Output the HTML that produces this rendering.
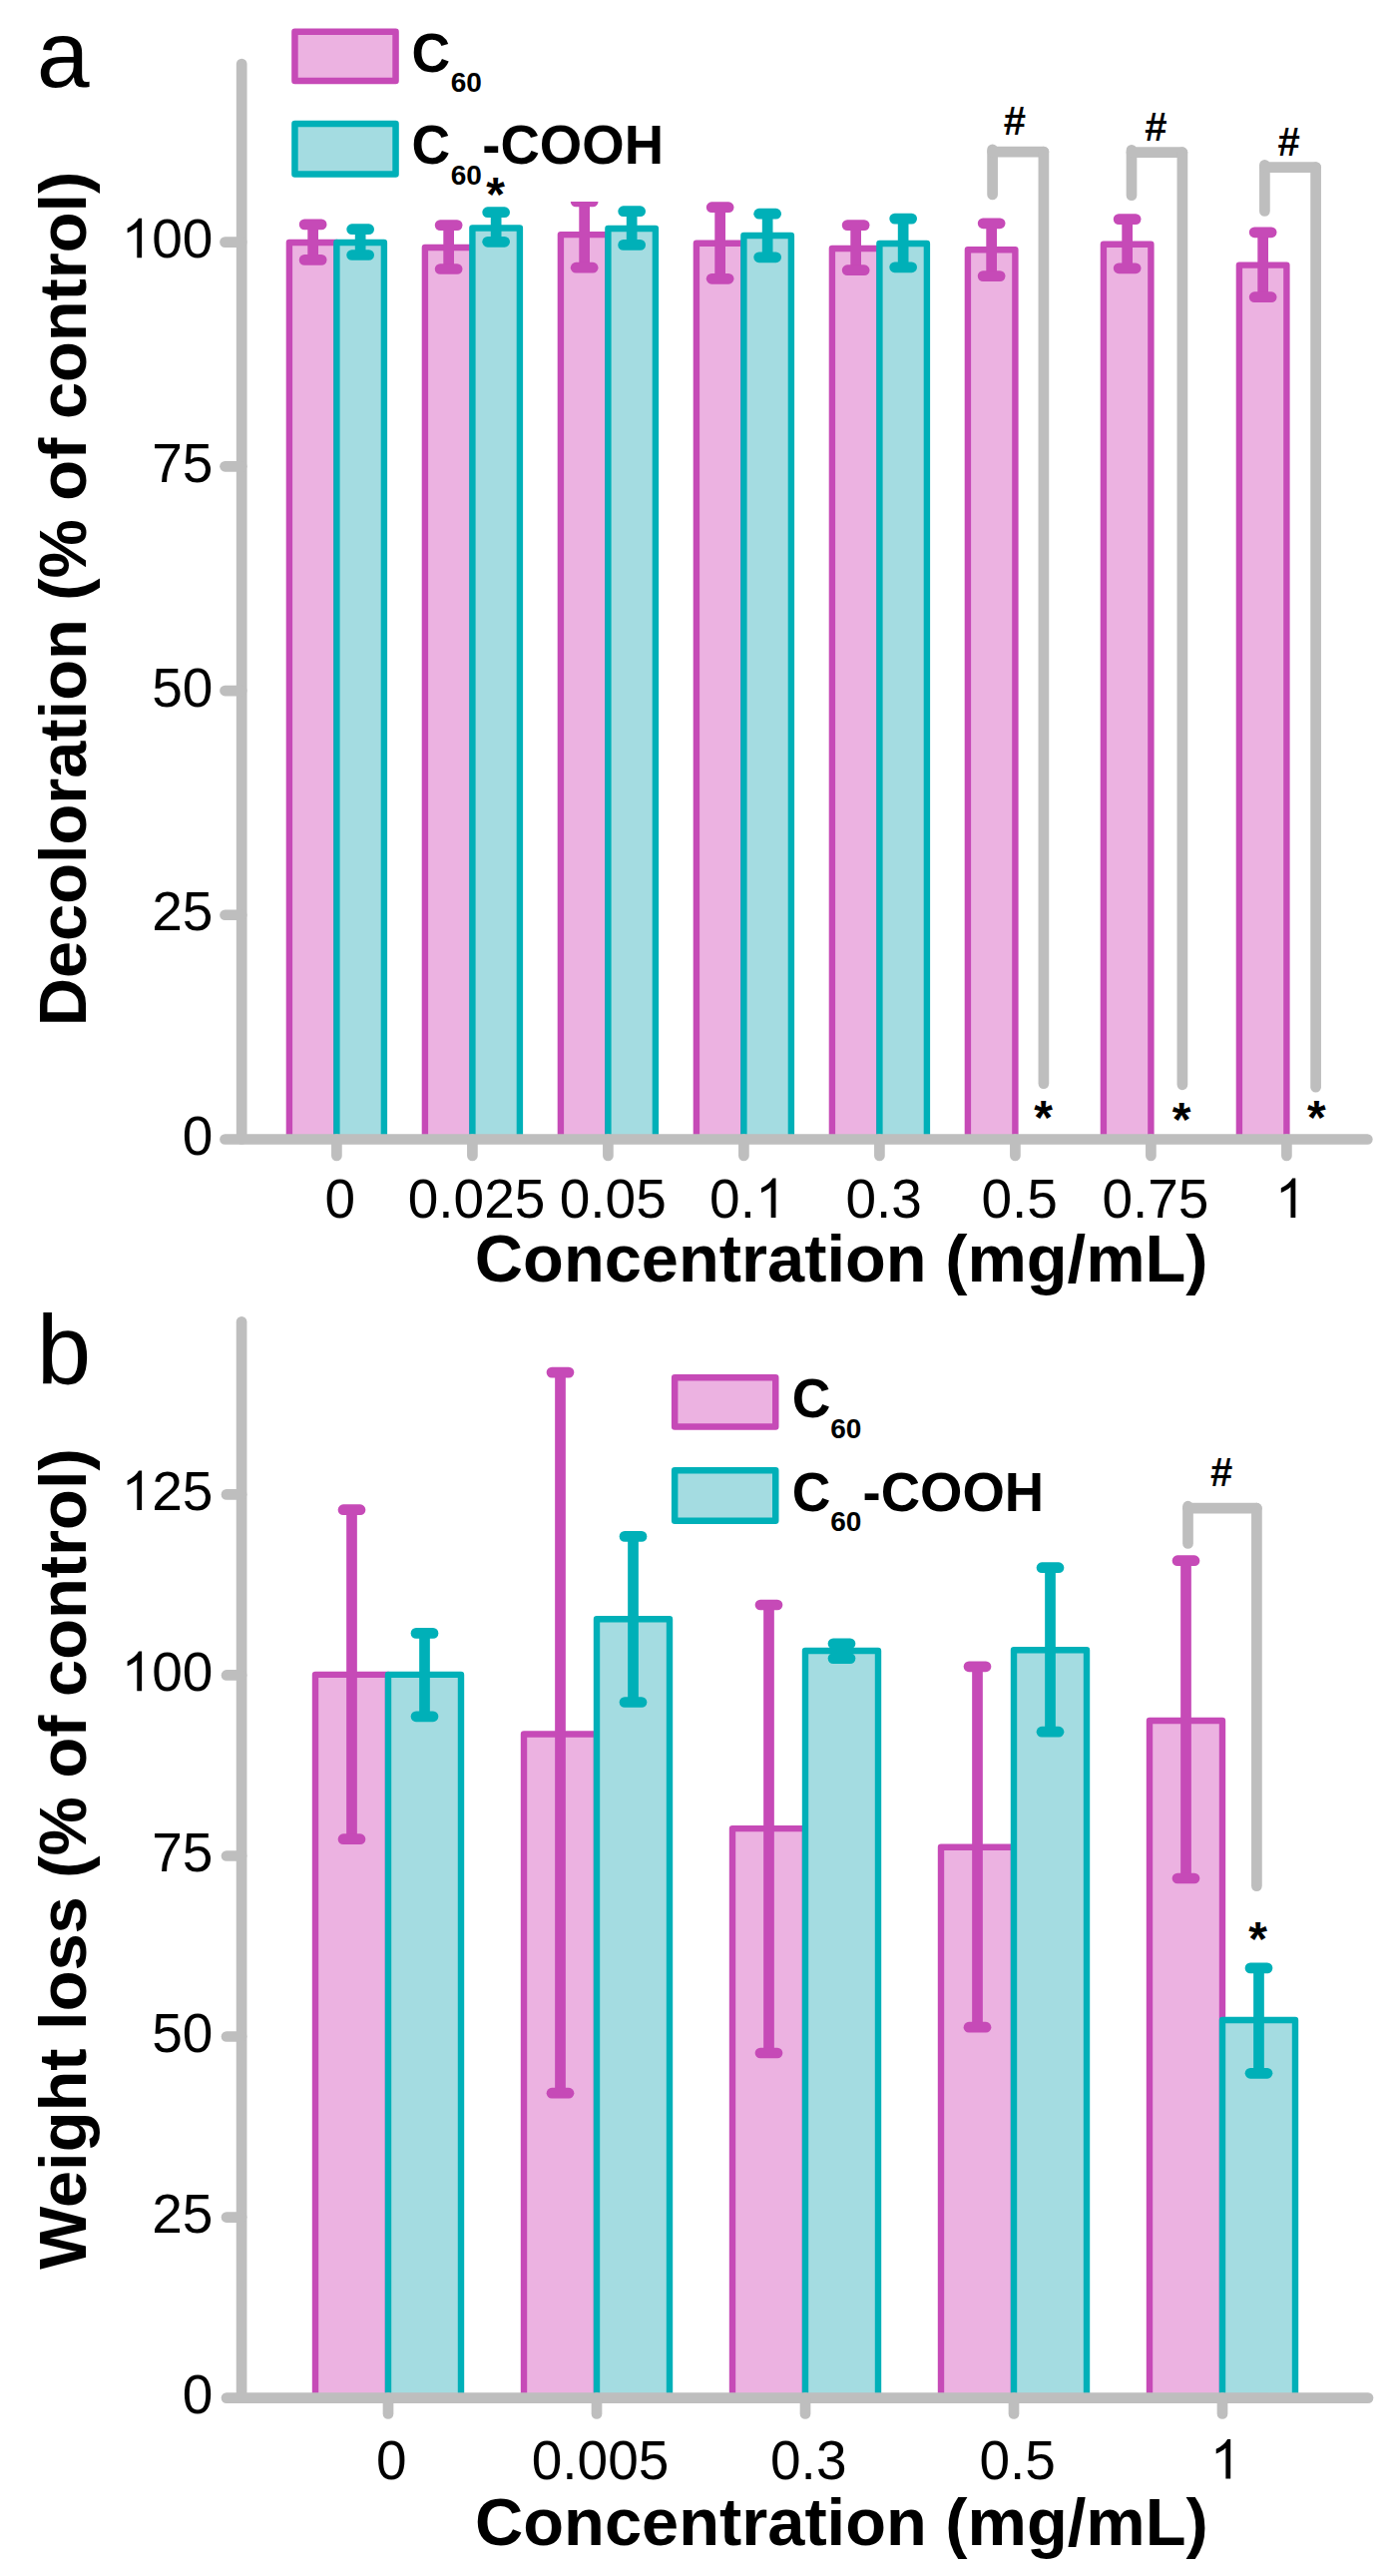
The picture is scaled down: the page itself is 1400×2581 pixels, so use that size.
<!DOCTYPE html>
<html><head><meta charset="utf-8"><style>
html,body{margin:0;padding:0;background:#fff;}
svg{display:block;}
text{font-family:"Liberation Sans",sans-serif;fill:#000;}
</style></head><body>
<svg width="1400" height="2581" viewBox="0 0 1400 2581">
<defs><clipPath id="clipA"><rect x="0" y="202" width="1400" height="1000"/></clipPath></defs>
<rect x="0" y="0" width="1400" height="2581" fill="#fff"/>
<path d="M289.90,1141.50 V243.00 H337.40 V1141.50" fill="#ECB2E1" stroke="#C64AB7" stroke-width="6.4" stroke-linejoin="round"/>
<path d="M337.40,1141.50 V243.00 H384.90 V1141.50" fill="#A4DCE1" stroke="#00B0B8" stroke-width="6.4" stroke-linejoin="round"/>
<path d="M425.90,1141.50 V248.00 H473.40 V1141.50" fill="#ECB2E1" stroke="#C64AB7" stroke-width="6.4" stroke-linejoin="round"/>
<path d="M473.40,1141.50 V228.50 H520.90 V1141.50" fill="#A4DCE1" stroke="#00B0B8" stroke-width="6.4" stroke-linejoin="round"/>
<path d="M561.90,1141.50 V235.10 H609.40 V1141.50" fill="#ECB2E1" stroke="#C64AB7" stroke-width="6.4" stroke-linejoin="round"/>
<path d="M609.40,1141.50 V229.00 H656.90 V1141.50" fill="#A4DCE1" stroke="#00B0B8" stroke-width="6.4" stroke-linejoin="round"/>
<path d="M697.90,1141.50 V243.70 H745.40 V1141.50" fill="#ECB2E1" stroke="#C64AB7" stroke-width="6.4" stroke-linejoin="round"/>
<path d="M745.40,1141.50 V236.00 H792.90 V1141.50" fill="#A4DCE1" stroke="#00B0B8" stroke-width="6.4" stroke-linejoin="round"/>
<path d="M833.90,1141.50 V249.00 H881.40 V1141.50" fill="#ECB2E1" stroke="#C64AB7" stroke-width="6.4" stroke-linejoin="round"/>
<path d="M881.40,1141.50 V244.00 H928.90 V1141.50" fill="#A4DCE1" stroke="#00B0B8" stroke-width="6.4" stroke-linejoin="round"/>
<path d="M969.90,1141.50 V250.30 H1017.40 V1141.50" fill="#ECB2E1" stroke="#C64AB7" stroke-width="6.4" stroke-linejoin="round"/>
<path d="M1105.90,1141.50 V244.80 H1153.40 V1141.50" fill="#ECB2E1" stroke="#C64AB7" stroke-width="6.4" stroke-linejoin="round"/>
<path d="M1241.90,1141.50 V265.60 H1289.40 V1141.50" fill="#ECB2E1" stroke="#C64AB7" stroke-width="6.4" stroke-linejoin="round"/>
<g clip-path="url(#clipA)">
<line x1="313.65" y1="224.90" x2="313.65" y2="260.40" stroke="#C64AB7" stroke-width="10.7" stroke-linecap="butt"/>
<line x1="305.15" y1="224.90" x2="322.15" y2="224.90" stroke="#C64AB7" stroke-width="10.7" stroke-linecap="round"/>
<line x1="305.15" y1="260.40" x2="322.15" y2="260.40" stroke="#C64AB7" stroke-width="10.7" stroke-linecap="round"/>
<line x1="361.15" y1="229.70" x2="361.15" y2="255.50" stroke="#00B0B8" stroke-width="10.7" stroke-linecap="butt"/>
<line x1="352.65" y1="229.70" x2="369.65" y2="229.70" stroke="#00B0B8" stroke-width="10.7" stroke-linecap="round"/>
<line x1="352.65" y1="255.50" x2="369.65" y2="255.50" stroke="#00B0B8" stroke-width="10.7" stroke-linecap="round"/>
<line x1="449.65" y1="225.60" x2="449.65" y2="269.50" stroke="#C64AB7" stroke-width="10.7" stroke-linecap="butt"/>
<line x1="441.15" y1="225.60" x2="458.15" y2="225.60" stroke="#C64AB7" stroke-width="10.7" stroke-linecap="round"/>
<line x1="441.15" y1="269.50" x2="458.15" y2="269.50" stroke="#C64AB7" stroke-width="10.7" stroke-linecap="round"/>
<line x1="497.15" y1="212.70" x2="497.15" y2="242.30" stroke="#00B0B8" stroke-width="10.7" stroke-linecap="butt"/>
<line x1="488.65" y1="212.70" x2="505.65" y2="212.70" stroke="#00B0B8" stroke-width="10.7" stroke-linecap="round"/>
<line x1="488.65" y1="242.30" x2="505.65" y2="242.30" stroke="#00B0B8" stroke-width="10.7" stroke-linecap="round"/>
<line x1="585.65" y1="202.00" x2="585.65" y2="268.20" stroke="#C64AB7" stroke-width="10.7" stroke-linecap="butt"/>
<line x1="577.15" y1="202.00" x2="594.15" y2="202.00" stroke="#C64AB7" stroke-width="10.7" stroke-linecap="round"/>
<line x1="577.15" y1="268.20" x2="594.15" y2="268.20" stroke="#C64AB7" stroke-width="10.7" stroke-linecap="round"/>
<line x1="633.15" y1="211.70" x2="633.15" y2="245.40" stroke="#00B0B8" stroke-width="10.7" stroke-linecap="butt"/>
<line x1="624.65" y1="211.70" x2="641.65" y2="211.70" stroke="#00B0B8" stroke-width="10.7" stroke-linecap="round"/>
<line x1="624.65" y1="245.40" x2="641.65" y2="245.40" stroke="#00B0B8" stroke-width="10.7" stroke-linecap="round"/>
<line x1="721.65" y1="207.70" x2="721.65" y2="279.30" stroke="#C64AB7" stroke-width="10.7" stroke-linecap="butt"/>
<line x1="713.15" y1="207.70" x2="730.15" y2="207.70" stroke="#C64AB7" stroke-width="10.7" stroke-linecap="round"/>
<line x1="713.15" y1="279.30" x2="730.15" y2="279.30" stroke="#C64AB7" stroke-width="10.7" stroke-linecap="round"/>
<line x1="769.15" y1="214.20" x2="769.15" y2="257.80" stroke="#00B0B8" stroke-width="10.7" stroke-linecap="butt"/>
<line x1="760.65" y1="214.20" x2="777.65" y2="214.20" stroke="#00B0B8" stroke-width="10.7" stroke-linecap="round"/>
<line x1="760.65" y1="257.80" x2="777.65" y2="257.80" stroke="#00B0B8" stroke-width="10.7" stroke-linecap="round"/>
<line x1="857.65" y1="225.60" x2="857.65" y2="270.70" stroke="#C64AB7" stroke-width="10.7" stroke-linecap="butt"/>
<line x1="849.15" y1="225.60" x2="866.15" y2="225.60" stroke="#C64AB7" stroke-width="10.7" stroke-linecap="round"/>
<line x1="849.15" y1="270.70" x2="866.15" y2="270.70" stroke="#C64AB7" stroke-width="10.7" stroke-linecap="round"/>
<line x1="905.15" y1="219.10" x2="905.15" y2="267.80" stroke="#00B0B8" stroke-width="10.7" stroke-linecap="butt"/>
<line x1="896.65" y1="219.10" x2="913.65" y2="219.10" stroke="#00B0B8" stroke-width="10.7" stroke-linecap="round"/>
<line x1="896.65" y1="267.80" x2="913.65" y2="267.80" stroke="#00B0B8" stroke-width="10.7" stroke-linecap="round"/>
<line x1="993.65" y1="223.80" x2="993.65" y2="276.60" stroke="#C64AB7" stroke-width="10.7" stroke-linecap="butt"/>
<line x1="985.15" y1="223.80" x2="1002.15" y2="223.80" stroke="#C64AB7" stroke-width="10.7" stroke-linecap="round"/>
<line x1="985.15" y1="276.60" x2="1002.15" y2="276.60" stroke="#C64AB7" stroke-width="10.7" stroke-linecap="round"/>
<line x1="1129.65" y1="219.60" x2="1129.65" y2="268.80" stroke="#C64AB7" stroke-width="10.7" stroke-linecap="butt"/>
<line x1="1121.15" y1="219.60" x2="1138.15" y2="219.60" stroke="#C64AB7" stroke-width="10.7" stroke-linecap="round"/>
<line x1="1121.15" y1="268.80" x2="1138.15" y2="268.80" stroke="#C64AB7" stroke-width="10.7" stroke-linecap="round"/>
<line x1="1265.65" y1="232.80" x2="1265.65" y2="297.70" stroke="#C64AB7" stroke-width="10.7" stroke-linecap="butt"/>
<line x1="1257.15" y1="232.80" x2="1274.15" y2="232.80" stroke="#C64AB7" stroke-width="10.7" stroke-linecap="round"/>
<line x1="1257.15" y1="297.70" x2="1274.15" y2="297.70" stroke="#C64AB7" stroke-width="10.7" stroke-linecap="round"/>
</g>
<line x1="994.60" y1="195.00" x2="994.60" y2="149.80" stroke="#BEBEBE" stroke-width="10.7" stroke-linecap="round"/>
<line x1="994.60" y1="152.10" x2="1045.90" y2="152.10" stroke="#BEBEBE" stroke-width="10.7" stroke-linecap="round"/>
<line x1="1045.90" y1="152.10" x2="1045.90" y2="1085.60" stroke="#BEBEBE" stroke-width="10.7" stroke-linecap="round"/>
<line x1="1134.00" y1="195.70" x2="1134.00" y2="150.40" stroke="#BEBEBE" stroke-width="10.7" stroke-linecap="round"/>
<line x1="1134.00" y1="152.70" x2="1184.90" y2="152.70" stroke="#BEBEBE" stroke-width="10.7" stroke-linecap="round"/>
<line x1="1184.90" y1="152.70" x2="1184.90" y2="1086.80" stroke="#BEBEBE" stroke-width="10.7" stroke-linecap="round"/>
<line x1="1267.40" y1="211.50" x2="1267.40" y2="165.30" stroke="#BEBEBE" stroke-width="10.7" stroke-linecap="round"/>
<line x1="1267.40" y1="167.60" x2="1318.60" y2="167.60" stroke="#BEBEBE" stroke-width="10.7" stroke-linecap="round"/>
<line x1="1318.60" y1="167.60" x2="1318.60" y2="1089.20" stroke="#BEBEBE" stroke-width="10.7" stroke-linecap="round"/>
<line x1="242.20" y1="64.00" x2="242.20" y2="1141.50" stroke="#BEBEBE" stroke-width="10.7" stroke-linecap="round"/>
<line x1="225.50" y1="1141.50" x2="1370.30" y2="1141.50" stroke="#BEBEBE" stroke-width="10.7" stroke-linecap="round"/>
<line x1="225.50" y1="916.77" x2="242.20" y2="916.77" stroke="#BEBEBE" stroke-width="10.7" stroke-linecap="round"/>
<line x1="225.50" y1="692.05" x2="242.20" y2="692.05" stroke="#BEBEBE" stroke-width="10.7" stroke-linecap="round"/>
<line x1="225.50" y1="467.33" x2="242.20" y2="467.33" stroke="#BEBEBE" stroke-width="10.7" stroke-linecap="round"/>
<line x1="225.50" y1="242.60" x2="242.20" y2="242.60" stroke="#BEBEBE" stroke-width="10.7" stroke-linecap="round"/>
<line x1="337.40" y1="1141.50" x2="337.40" y2="1158.00" stroke="#BEBEBE" stroke-width="10.7" stroke-linecap="round"/>
<line x1="473.40" y1="1141.50" x2="473.40" y2="1158.00" stroke="#BEBEBE" stroke-width="10.7" stroke-linecap="round"/>
<line x1="609.40" y1="1141.50" x2="609.40" y2="1158.00" stroke="#BEBEBE" stroke-width="10.7" stroke-linecap="round"/>
<line x1="745.40" y1="1141.50" x2="745.40" y2="1158.00" stroke="#BEBEBE" stroke-width="10.7" stroke-linecap="round"/>
<line x1="881.40" y1="1141.50" x2="881.40" y2="1158.00" stroke="#BEBEBE" stroke-width="10.7" stroke-linecap="round"/>
<line x1="1017.40" y1="1141.50" x2="1017.40" y2="1158.00" stroke="#BEBEBE" stroke-width="10.7" stroke-linecap="round"/>
<line x1="1153.40" y1="1141.50" x2="1153.40" y2="1158.00" stroke="#BEBEBE" stroke-width="10.7" stroke-linecap="round"/>
<line x1="1289.40" y1="1141.50" x2="1289.40" y2="1158.00" stroke="#BEBEBE" stroke-width="10.7" stroke-linecap="round"/>
<g transform="translate(182.81,1157.20)"><text transform="scale(1,1.025)" x="0.00" y="0" font-size="55">0</text></g>
<g transform="translate(152.22,932.48)"><text transform="scale(1,1.025)" x="0.00" y="0" font-size="55">25</text></g>
<g transform="translate(152.22,707.75)"><text transform="scale(1,1.025)" x="0.00" y="0" font-size="55">50</text></g>
<g transform="translate(152.22,483.03)"><text transform="scale(1,1.025)" x="0.00" y="0" font-size="55">75</text></g>
<g transform="translate(121.63,258.30)"><path transform="translate(0.00,0) scale(0.02686,-0.02686)" d="M763,0 L583,0 L583,1147 Q518,1085 412.5,1023 Q307,961 223,930 L223,1104 Q374,1175 486.5,1276 Q599,1377 647,1472 L763,1472 Z"/><text transform="scale(1,1.025)" x="30.59" y="0" font-size="55">00</text></g>
<g transform="translate(325.62,1220.00)"><text transform="scale(1,1.025)" x="0.00" y="0" font-size="55">0</text></g>
<g transform="translate(408.72,1220.00)"><text transform="scale(1,1.025)" x="0.00" y="0" font-size="55">0.025</text></g>
<g transform="translate(560.72,1220.00)"><text transform="scale(1,1.025)" x="0.00" y="0" font-size="55">0.05</text></g>
<g transform="translate(711.12,1220.00)"><text transform="scale(1,1.025)" x="0.00" y="0" font-size="55">0.</text><path transform="translate(45.87,0) scale(0.02686,-0.02686)" d="M763,0 L583,0 L583,1147 Q518,1085 412.5,1023 Q307,961 223,930 L223,1104 Q374,1175 486.5,1276 Q599,1377 647,1472 L763,1472 Z"/></g>
<g transform="translate(847.42,1220.00)"><text transform="scale(1,1.025)" x="0.00" y="0" font-size="55">0.3</text></g>
<g transform="translate(983.42,1220.00)"><text transform="scale(1,1.025)" x="0.00" y="0" font-size="55">0.5</text></g>
<g transform="translate(1104.42,1220.00)"><text transform="scale(1,1.025)" x="0.00" y="0" font-size="55">0.75</text></g>
<g transform="translate(1277.81,1220.00)"><path transform="translate(0.00,0) scale(0.02686,-0.02686)" d="M763,0 L583,0 L583,1147 Q518,1085 412.5,1023 Q307,961 223,930 L223,1104 Q374,1175 486.5,1276 Q599,1377 647,1472 L763,1472 Z"/></g>
<text x="475.86" y="1283.90" font-size="66.8" font-weight="bold">Concentration (mg/mL)</text>
<text transform="translate(85.80,1028.27) rotate(-90)" x="0" y="0" font-size="66.75" font-weight="bold">Decoloration (% of control)</text>
<text x="36.86" y="87.00" font-size="95" font-weight="normal">a</text>
<rect x="295.45" y="31.85" width="101.10" height="49.10" fill="#ECB2E1" stroke="#C64AB7" stroke-width="6.5" stroke-linejoin="round"/>
<rect x="295.45" y="124.05" width="101.10" height="50.50" fill="#A4DCE1" stroke="#00B0B8" stroke-width="6.5" stroke-linejoin="round"/>
<text transform="translate(412.41,71.70) scale(1,1.03)" x="0" y="0" font-size="53.5" font-weight="bold">C</text>
<text x="451.77" y="91.60" font-size="28" font-weight="bold">60</text>
<text transform="translate(412.41,164.00) scale(1,1.03)" x="0" y="0" font-size="53.5" font-weight="bold">C</text>
<text x="451.77" y="184.60" font-size="28" font-weight="bold">60</text>
<text transform="translate(483.37,164.00) scale(1,1.03)" x="0" y="0" font-size="54.5" font-weight="bold">-COOH</text>
<text x="487.26" y="211.06" font-size="48" font-weight="bold">*</text>
<text x="1036.36" y="1135.56" font-size="48" font-weight="bold">*</text>
<text x="1174.86" y="1138.26" font-size="48" font-weight="bold">*</text>
<text x="1310.06" y="1135.96" font-size="48" font-weight="bold">*</text>
<text x="1005.72" y="135.00" font-size="40" font-weight="bold">#</text>
<text x="1147.32" y="141.00" font-size="40" font-weight="bold">#</text>
<text x="1280.62" y="155.90" font-size="40" font-weight="bold">#</text>
<path d="M316.00,2402.60 V1677.90 H389.00 V2402.60" fill="#ECB2E1" stroke="#C64AB7" stroke-width="6.4" stroke-linejoin="round"/>
<path d="M389.00,2402.60 V1677.90 H462.00 V2402.60" fill="#A4DCE1" stroke="#00B0B8" stroke-width="6.4" stroke-linejoin="round"/>
<path d="M525.00,2402.60 V1737.50 H598.00 V2402.60" fill="#ECB2E1" stroke="#C64AB7" stroke-width="6.4" stroke-linejoin="round"/>
<path d="M598.00,2402.60 V1622.20 H671.00 V2402.60" fill="#A4DCE1" stroke="#00B0B8" stroke-width="6.4" stroke-linejoin="round"/>
<path d="M734.00,2402.60 V1832.10 H807.00 V2402.60" fill="#ECB2E1" stroke="#C64AB7" stroke-width="6.4" stroke-linejoin="round"/>
<path d="M807.00,2402.60 V1654.00 H880.00 V2402.60" fill="#A4DCE1" stroke="#00B0B8" stroke-width="6.4" stroke-linejoin="round"/>
<path d="M943.00,2402.60 V1850.80 H1016.00 V2402.60" fill="#ECB2E1" stroke="#C64AB7" stroke-width="6.4" stroke-linejoin="round"/>
<path d="M1016.00,2402.60 V1653.20 H1089.00 V2402.60" fill="#A4DCE1" stroke="#00B0B8" stroke-width="6.4" stroke-linejoin="round"/>
<path d="M1152.00,2402.60 V1724.00 H1225.00 V2402.60" fill="#ECB2E1" stroke="#C64AB7" stroke-width="6.4" stroke-linejoin="round"/>
<path d="M1225.00,2402.60 V2024.00 H1298.00 V2402.60" fill="#A4DCE1" stroke="#00B0B8" stroke-width="6.4" stroke-linejoin="round"/>
<line x1="352.50" y1="1512.70" x2="352.50" y2="1842.70" stroke="#C64AB7" stroke-width="10.7" stroke-linecap="butt"/>
<line x1="344.00" y1="1512.70" x2="361.00" y2="1512.70" stroke="#C64AB7" stroke-width="10.7" stroke-linecap="round"/>
<line x1="344.00" y1="1842.70" x2="361.00" y2="1842.70" stroke="#C64AB7" stroke-width="10.7" stroke-linecap="round"/>
<line x1="425.50" y1="1636.40" x2="425.50" y2="1719.80" stroke="#00B0B8" stroke-width="10.7" stroke-linecap="butt"/>
<line x1="417.00" y1="1636.40" x2="434.00" y2="1636.40" stroke="#00B0B8" stroke-width="10.7" stroke-linecap="round"/>
<line x1="417.00" y1="1719.80" x2="434.00" y2="1719.80" stroke="#00B0B8" stroke-width="10.7" stroke-linecap="round"/>
<line x1="561.50" y1="1375.10" x2="561.50" y2="2097.20" stroke="#C64AB7" stroke-width="10.7" stroke-linecap="butt"/>
<line x1="553.00" y1="1375.10" x2="570.00" y2="1375.10" stroke="#C64AB7" stroke-width="10.7" stroke-linecap="round"/>
<line x1="553.00" y1="2097.20" x2="570.00" y2="2097.20" stroke="#C64AB7" stroke-width="10.7" stroke-linecap="round"/>
<line x1="634.50" y1="1539.40" x2="634.50" y2="1705.50" stroke="#00B0B8" stroke-width="10.7" stroke-linecap="butt"/>
<line x1="626.00" y1="1539.40" x2="643.00" y2="1539.40" stroke="#00B0B8" stroke-width="10.7" stroke-linecap="round"/>
<line x1="626.00" y1="1705.50" x2="643.00" y2="1705.50" stroke="#00B0B8" stroke-width="10.7" stroke-linecap="round"/>
<line x1="770.50" y1="1608.00" x2="770.50" y2="2057.00" stroke="#C64AB7" stroke-width="10.7" stroke-linecap="butt"/>
<line x1="762.00" y1="1608.00" x2="779.00" y2="1608.00" stroke="#C64AB7" stroke-width="10.7" stroke-linecap="round"/>
<line x1="762.00" y1="2057.00" x2="779.00" y2="2057.00" stroke="#C64AB7" stroke-width="10.7" stroke-linecap="round"/>
<line x1="843.50" y1="1646.80" x2="843.50" y2="1661.60" stroke="#00B0B8" stroke-width="10.7" stroke-linecap="butt"/>
<line x1="835.00" y1="1646.80" x2="852.00" y2="1646.80" stroke="#00B0B8" stroke-width="10.7" stroke-linecap="round"/>
<line x1="835.00" y1="1661.60" x2="852.00" y2="1661.60" stroke="#00B0B8" stroke-width="10.7" stroke-linecap="round"/>
<line x1="979.50" y1="1669.80" x2="979.50" y2="2031.20" stroke="#C64AB7" stroke-width="10.7" stroke-linecap="butt"/>
<line x1="971.00" y1="1669.80" x2="988.00" y2="1669.80" stroke="#C64AB7" stroke-width="10.7" stroke-linecap="round"/>
<line x1="971.00" y1="2031.20" x2="988.00" y2="2031.20" stroke="#C64AB7" stroke-width="10.7" stroke-linecap="round"/>
<line x1="1052.50" y1="1570.70" x2="1052.50" y2="1735.20" stroke="#00B0B8" stroke-width="10.7" stroke-linecap="butt"/>
<line x1="1044.00" y1="1570.70" x2="1061.00" y2="1570.70" stroke="#00B0B8" stroke-width="10.7" stroke-linecap="round"/>
<line x1="1044.00" y1="1735.20" x2="1061.00" y2="1735.20" stroke="#00B0B8" stroke-width="10.7" stroke-linecap="round"/>
<line x1="1188.50" y1="1563.70" x2="1188.50" y2="1882.00" stroke="#C64AB7" stroke-width="10.7" stroke-linecap="butt"/>
<line x1="1180.00" y1="1563.70" x2="1197.00" y2="1563.70" stroke="#C64AB7" stroke-width="10.7" stroke-linecap="round"/>
<line x1="1180.00" y1="1882.00" x2="1197.00" y2="1882.00" stroke="#C64AB7" stroke-width="10.7" stroke-linecap="round"/>
<line x1="1261.50" y1="1971.90" x2="1261.50" y2="2077.30" stroke="#00B0B8" stroke-width="10.7" stroke-linecap="butt"/>
<line x1="1253.00" y1="1971.90" x2="1270.00" y2="1971.90" stroke="#00B0B8" stroke-width="10.7" stroke-linecap="round"/>
<line x1="1253.00" y1="2077.30" x2="1270.00" y2="2077.30" stroke="#00B0B8" stroke-width="10.7" stroke-linecap="round"/>
<line x1="1190.50" y1="1546.40" x2="1190.50" y2="1509.20" stroke="#BEBEBE" stroke-width="10.7" stroke-linecap="round"/>
<line x1="1190.50" y1="1511.20" x2="1259.40" y2="1511.20" stroke="#BEBEBE" stroke-width="10.7" stroke-linecap="round"/>
<line x1="1259.40" y1="1511.20" x2="1259.40" y2="1889.60" stroke="#BEBEBE" stroke-width="10.7" stroke-linecap="round"/>
<line x1="242.10" y1="1324.40" x2="242.10" y2="2402.60" stroke="#BEBEBE" stroke-width="10.7" stroke-linecap="round"/>
<line x1="227.00" y1="2402.60" x2="1371.00" y2="2402.60" stroke="#BEBEBE" stroke-width="10.7" stroke-linecap="round"/>
<line x1="227.00" y1="2221.56" x2="242.10" y2="2221.56" stroke="#BEBEBE" stroke-width="10.7" stroke-linecap="round"/>
<line x1="227.00" y1="2040.52" x2="242.10" y2="2040.52" stroke="#BEBEBE" stroke-width="10.7" stroke-linecap="round"/>
<line x1="227.00" y1="1859.48" x2="242.10" y2="1859.48" stroke="#BEBEBE" stroke-width="10.7" stroke-linecap="round"/>
<line x1="227.00" y1="1678.44" x2="242.10" y2="1678.44" stroke="#BEBEBE" stroke-width="10.7" stroke-linecap="round"/>
<line x1="227.00" y1="1497.40" x2="242.10" y2="1497.40" stroke="#BEBEBE" stroke-width="10.7" stroke-linecap="round"/>
<line x1="389.00" y1="2402.60" x2="389.00" y2="2418.50" stroke="#BEBEBE" stroke-width="10.7" stroke-linecap="round"/>
<line x1="598.00" y1="2402.60" x2="598.00" y2="2418.50" stroke="#BEBEBE" stroke-width="10.7" stroke-linecap="round"/>
<line x1="807.00" y1="2402.60" x2="807.00" y2="2418.50" stroke="#BEBEBE" stroke-width="10.7" stroke-linecap="round"/>
<line x1="1016.00" y1="2402.60" x2="1016.00" y2="2418.50" stroke="#BEBEBE" stroke-width="10.7" stroke-linecap="round"/>
<line x1="1225.00" y1="2402.60" x2="1225.00" y2="2418.50" stroke="#BEBEBE" stroke-width="10.7" stroke-linecap="round"/>
<g transform="translate(182.81,2418.30)"><text transform="scale(1,1.025)" x="0.00" y="0" font-size="55">0</text></g>
<g transform="translate(152.22,2237.26)"><text transform="scale(1,1.025)" x="0.00" y="0" font-size="55">25</text></g>
<g transform="translate(152.22,2056.22)"><text transform="scale(1,1.025)" x="0.00" y="0" font-size="55">50</text></g>
<g transform="translate(152.22,1875.18)"><text transform="scale(1,1.025)" x="0.00" y="0" font-size="55">75</text></g>
<g transform="translate(121.63,1694.14)"><path transform="translate(0.00,0) scale(0.02686,-0.02686)" d="M763,0 L583,0 L583,1147 Q518,1085 412.5,1023 Q307,961 223,930 L223,1104 Q374,1175 486.5,1276 Q599,1377 647,1472 L763,1472 Z"/><text transform="scale(1,1.025)" x="30.59" y="0" font-size="55">00</text></g>
<g transform="translate(121.63,1513.10)"><path transform="translate(0.00,0) scale(0.02686,-0.02686)" d="M763,0 L583,0 L583,1147 Q518,1085 412.5,1023 Q307,961 223,930 L223,1104 Q374,1175 486.5,1276 Q599,1377 647,1472 L763,1472 Z"/><text transform="scale(1,1.025)" x="30.59" y="0" font-size="55">25</text></g>
<g transform="translate(376.92,2483.50)"><text transform="scale(1,1.025)" x="0.00" y="0" font-size="55">0</text></g>
<g transform="translate(532.72,2483.50)"><text transform="scale(1,1.025)" x="0.00" y="0" font-size="55">0.005</text></g>
<g transform="translate(772.02,2483.50)"><text transform="scale(1,1.025)" x="0.00" y="0" font-size="55">0.3</text></g>
<g transform="translate(981.42,2483.50)"><text transform="scale(1,1.025)" x="0.00" y="0" font-size="55">0.5</text></g>
<g transform="translate(1212.71,2483.50)"><path transform="translate(0.00,0) scale(0.02686,-0.02686)" d="M763,0 L583,0 L583,1147 Q518,1085 412.5,1023 Q307,961 223,930 L223,1104 Q374,1175 486.5,1276 Q599,1377 647,1472 L763,1472 Z"/></g>
<text x="476.06" y="2549.80" font-size="66.8" font-weight="bold">Concentration (mg/mL)</text>
<text transform="translate(85.80,2273.87) rotate(-90)" x="0" y="0" font-size="66.8" font-weight="bold">Weight loss (% of control)</text>
<text x="36.68" y="1385.50" font-size="98" font-weight="normal">b</text>
<rect x="676.15" y="1380.35" width="101.10" height="49.10" fill="#ECB2E1" stroke="#C64AB7" stroke-width="6.5" stroke-linejoin="round"/>
<rect x="676.15" y="1473.25" width="101.10" height="50.50" fill="#A4DCE1" stroke="#00B0B8" stroke-width="6.5" stroke-linejoin="round"/>
<text transform="translate(793.81,1420.20) scale(1,1.03)" x="0" y="0" font-size="53.5" font-weight="bold">C</text>
<text x="832.17" y="1441.20" font-size="28" font-weight="bold">60</text>
<text transform="translate(793.81,1514.10) scale(1,1.03)" x="0" y="0" font-size="53.5" font-weight="bold">C</text>
<text x="832.17" y="1534.30" font-size="28" font-weight="bold">60</text>
<text transform="translate(864.57,1514.10) scale(1,1.03)" x="0" y="0" font-size="54.5" font-weight="bold">-COOH</text>
<text x="1251.26" y="1959.16" font-size="48" font-weight="bold">*</text>
<text x="1213.12" y="1489.40" font-size="40" font-weight="bold">#</text>
</svg></body></html>
